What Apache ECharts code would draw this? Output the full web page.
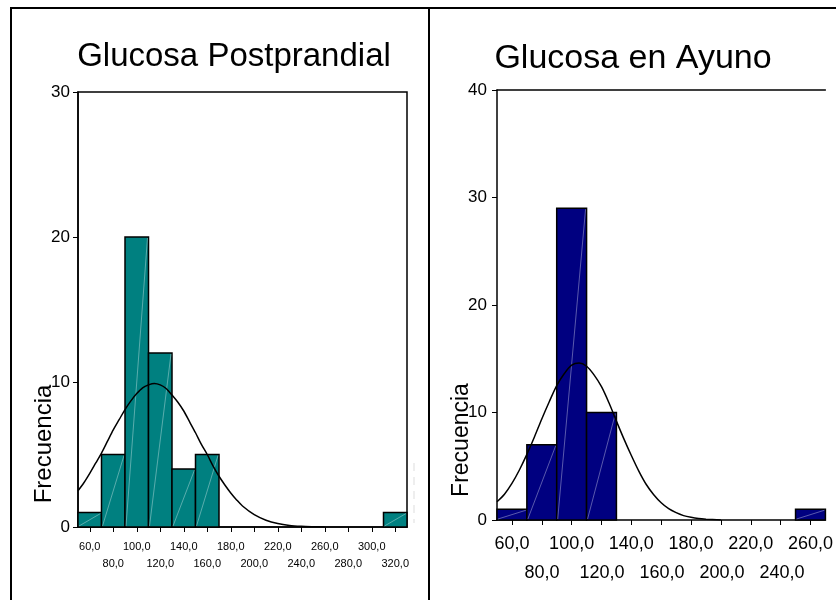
<!DOCTYPE html>
<html>
<head>
<meta charset="utf-8">
<script src="https://cdn.jsdelivr.net/npm/echarts@6/dist/echarts.min.js"></script>
<style>
    html, body { margin: 0; padding: 0; background: #fff; }
    #main { width: 836px; height: 600px; }
</style>
</head>
<body>
<div id="main"></div>
<script>
// histogram bins (lower edge, width 20) and counts
var postBins = [50, 70, 90, 110, 130, 150, 310];
var postCounts = [1, 5, 20, 12, 4, 5, 1];
var ayunoBins = [50, 70, 90, 110, 250];
var ayunoCounts = [1, 7, 29, 10, 1];
var binWidth = 20;

// fitted normal curve
var postCurveX = [50, 55, 60, 65, 70, 75, 80, 85, 90, 95, 100, 105, 110, 115, 120, 125, 130, 135, 140, 145, 150, 155, 160, 165, 170, 175, 180, 185, 190, 200, 210, 220, 230, 240, 250, 260];
var postCurveY = [2.5, 3.05, 3.7, 4.4, 5.1, 5.9, 6.7, 7.4, 8.1, 8.7, 9.2, 9.6, 9.8, 9.9, 9.8, 9.55, 9.1, 8.6, 8.0, 7.25, 6.5, 5.7, 5.0, 4.2, 3.5, 2.9, 2.35, 1.87, 1.45, 0.85, 0.47, 0.24, 0.11, 0.05, 0.02, 0];
var ayunoCurveX = [50, 55, 60, 65, 70, 75, 80, 85, 90, 95, 100, 105, 110, 115, 120, 125, 130, 135, 140, 145, 150, 155, 160, 165, 170, 175, 180, 185, 190, 200];
var ayunoCurveY = [1.7, 2.4, 3.4, 4.65, 6.1, 7.7, 9.4, 11.0, 12.5, 13.6, 14.4, 14.6, 14.3, 13.5, 12.4, 10.9, 9.2, 7.55, 6.0, 4.55, 3.3, 2.35, 1.6, 1.05, 0.68, 0.41, 0.25, 0.14, 0.08, 0];

// ticks on the x axes; labels alternate between two rows
var postTicks = [60, 80, 100, 120, 140, 160, 180, 200, 220, 240, 260, 280, 300, 320];
var ayunoTicks = [60, 80, 100, 120, 140, 160, 180, 200, 220, 240, 260];

var font = "'Liberation Sans', Arial, sans-serif";

var myChart = echarts.init(document.getElementById('main'));

function histData(bins, counts) {
    return bins.map(function (b, i) {
        return [b, b + binWidth, counts[i]];
    });
}

function curveData(xs, ys) {
    return xs.map(function (x, i) {
        return [x, ys[i]];
    });
}

function row(ticks, r) {
    return ticks.filter(function (t, i) {
        return i % 2 === r;
    });
}

function histRender(color) {
    return function (params, api) {
        var p0 = api.coord([api.value(0), api.value(2)]);
        var p1 = api.coord([api.value(1), 0]);
        return {
            type: 'group',
            children: [{
                type: 'rect',
                shape: {x: p0[0], y: p0[1], width: p1[0] - p0[0], height: p1[1] - p0[1]},
                style: {fill: color, stroke: '#000', lineWidth: 1.5}
            }, {
                type: 'line',
                shape: {x1: p0[0] + 1, y1: p1[1] - 1, x2: p1[0] - 1, y2: p0[1] + 1},
                style: {stroke: 'rgba(255,255,255,0.35)', lineWidth: 1}
            }]
        };
    };
}

function fmt(v) {
    return v.toFixed(1).replace('.', ',');
}

var axisLine = {lineStyle: {color: '#000', width: 1.5}};

// x axis with ticks + first label row, or a bare second label row
function xAxisFor(grid, max, ticks, r, fontSize, margin) {
    var labels = {
        customValues: row(ticks, r), formatter: fmt,
        showMinLabel: true, showMaxLabel: true, hideOverlap: false,
        fontFamily: font, fontSize: fontSize, margin: margin, color: '#000'
    };
    return {
        type: 'value', gridIndex: grid, min: 50, max: max,
        axisLine: r === 0 ? axisLine : {show: false},
        splitLine: {show: false},
        axisTick: r === 0 ? {customValues: ticks, length: 5, lineStyle: {color: '#000'}} : {show: false},
        axisLabel: labels
    };
}

function hiddenY(grid) {
    return {type: 'value', gridIndex: grid, min: 0, max: 10, show: false};
}

var topLine = {
    type: 'value', gridIndex: 1, min: 50, max: 270, position: 'top',
    axisLine: axisLine,
    splitLine: {show: false},
    axisTick: {show: false},
    axisLabel: {show: false}
};

option = {
    animation: false,
    title: [{
        text: 'Glucosa Postprandial',
        left: 234,
        top: 40,
        padding: 0,
        textAlign: 'center',
        textStyle: {fontFamily: font, fontSize: 33, fontWeight: 'normal', color: '#000'}
    }, {
        text: 'Glucosa en Ayuno',
        left: 633,
        top: 42,
        padding: 0,
        textAlign: 'center',
        textStyle: {fontFamily: font, fontSize: 34, fontWeight: 'normal', color: '#000'}
    }],
    grid: [
        {left: 78, top: 92, width: 329, height: 435, show: true, borderColor: '#000', borderWidth: 1.5},
        {left: 497, top: 90, width: 330, height: 430},
        {left: 78, top: 92, width: 329, height: 435},
        {left: 497, top: 90, width: 330, height: 430}
    ],
    xAxis: [
        xAxisFor(0, 330, postTicks, 0, 11, 14),
        xAxisFor(1, 270, ayunoTicks, 0, 18, 15),
        topLine,
        xAxisFor(2, 330, postTicks, 1, 11, 31),
        xAxisFor(3, 270, ayunoTicks, 1, 18, 44)
    ],
    yAxis: [{
        type: 'value', gridIndex: 0, min: 0, max: 30, interval: 10,
        axisLine: {show: true, lineStyle: {color: '#000', width: 1.5}},
        splitLine: {show: false},
        axisTick: {show: true, length: 5, lineStyle: {color: '#000'}},
        axisLabel: {fontFamily: font, fontSize: 17, margin: 8, color: '#000'}
    }, {
        type: 'value', gridIndex: 1, min: 0, max: 40, interval: 10,
        axisLine: {show: true, lineStyle: {color: '#000', width: 1.5}},
        splitLine: {show: false},
        axisTick: {show: true, length: 5, lineStyle: {color: '#000'}},
        axisLabel: {fontFamily: font, fontSize: 17, margin: 10, color: '#000'}
    }, hiddenY(2), hiddenY(3)],
    graphic: [
        // outer frame
        {type: 'line', shape: {x1: 10, y1: 8, x2: 836, y2: 8}, style: {stroke: '#000', lineWidth: 2}},
        {type: 'line', shape: {x1: 11, y1: 8, x2: 11, y2: 600}, style: {stroke: '#000', lineWidth: 2}},
        {type: 'line', shape: {x1: 429, y1: 8, x2: 429, y2: 600}, style: {stroke: '#000', lineWidth: 2}},
        {type: 'line', shape: {x1: 414, y1: 463, x2: 414, y2: 523}, style: {stroke: '#ddd', lineWidth: 1, lineDash: [8, 6]}},
        {
            type: 'text', x: 44, y: 444, rotation: Math.PI / 2,
            style: {text: 'Frecuencia', fontFamily: font, fontSize: 24, fill: '#000', align: 'center', verticalAlign: 'middle'}
        },
        {
            type: 'text', x: 462, y: 440, rotation: Math.PI / 2,
            style: {text: 'Frecuencia', fontFamily: font, fontSize: 23, fill: '#000', align: 'center', verticalAlign: 'middle'}
        }
    ],
    series: [{
        type: 'custom', xAxisIndex: 0, yAxisIndex: 0,
        renderItem: histRender('#008080'),
        encode: {x: [0, 1], y: 2},
        data: histData(postBins, postCounts)
    }, {
        type: 'line', xAxisIndex: 0, yAxisIndex: 0,
        smooth: 0.3, showSymbol: false, z: 5,
        lineStyle: {color: '#000', width: 1.5},
        data: curveData(postCurveX, postCurveY)
    }, {
        type: 'custom', xAxisIndex: 1, yAxisIndex: 1,
        renderItem: histRender('#000080'),
        encode: {x: [0, 1], y: 2},
        data: histData(ayunoBins, ayunoCounts)
    }, {
        type: 'line', xAxisIndex: 1, yAxisIndex: 1,
        smooth: 0.3, showSymbol: false, z: 5,
        lineStyle: {color: '#000', width: 1.5},
        data: curveData(ayunoCurveX, ayunoCurveY)
    }]
};
myChart.setOption(option);
</script>
</body>
</html>
